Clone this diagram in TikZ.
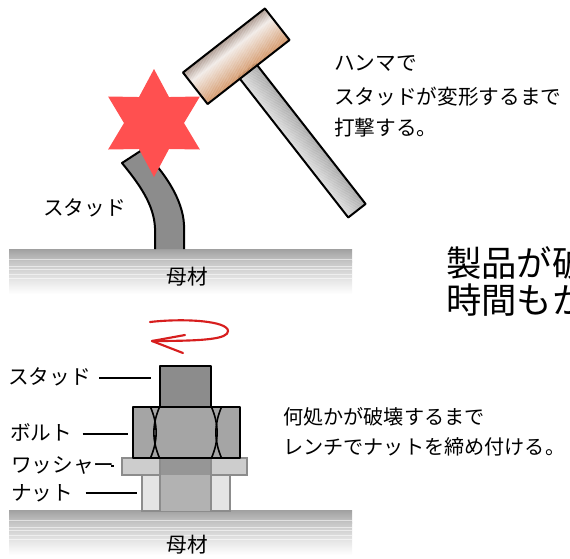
\documentclass[tikz,border=0pt]{standalone}
\usepackage{fontspec}
\setmainfont{Noto Sans CJK JP}
\definecolor{starred}{RGB}{255,80,80}
\definecolor{arrowred}{RGB}{215,30,30}
\definecolor{studgray}{RGB}{140,140,140}
\definecolor{plA}{RGB}{160,160,160}
\definecolor{plB}{RGB}{198,198,198}
\definecolor{hA}{RGB}{170,150,140}
\definecolor{hB}{RGB}{242,236,232}
\definecolor{hC}{RGB}{214,155,110}
\definecolor{haA}{RGB}{172,172,172}
\definecolor{haB}{RGB}{222,222,222}
\definecolor{nutgray}{RGB}{165,165,165}
\definecolor{washer}{RGB}{205,205,205}
\definecolor{nutlight}{RGB}{228,228,228}
\definecolor{colmid}{RGB}{178,178,178}
\definecolor{coldark}{RGB}{150,150,150}
\definecolor{edgegray}{RGB}{140,140,140}
\begin{document}
\begin{tikzpicture}[x=0.75pt,y=-0.75pt,
  outl/.style={draw=black,line width=1.5pt,line join=round},
  lbl/.style={font=\fontsize{15.5}{18}\selectfont,inner sep=0pt,anchor=west},
  lbls/.style={font=\fontsize{15.1}{18}\selectfont,inner sep=0pt,anchor=west},
  big/.style={font=\fontsize{26.5}{30}\selectfont,inner sep=0pt,anchor=west},
  leader/.style={draw=black,line width=1.5pt},
  redarrow/.style={draw=arrowred,line width=1.6pt,line cap=round,line join=round}]
\useasboundingbox (0,0) rectangle (570,558);
\clip (0,0) rectangle (570,558);

% base plates
\foreach \t in {249,510}{
  \shade[top color=plA,bottom color=plB] (9,\t) rectangle (352,\t+13);
  \shade[top color=plB,bottom color=white] (9,\t+12.9) rectangle (352,\t+45);
  \foreach \d in {10,17,20,25,29}{
    \draw[white,opacity=0.55,line width=0.5pt] (9,\t+\d) -- (352,\t+\d);
  }
}

% bent stud (top)
\fill[studgray] (155,249) -- (155,228) .. controls (154,205) and (140,185) .. (122,163)
  -- (142,150) .. controls (165,172) and (183,200) .. (184,225) -- (184,249) -- cycle;
\draw[outl] (155,249) -- (155,228) .. controls (154,205) and (140,185) .. (122,163)
  -- (142,150) .. controls (165,172) and (183,200) .. (184,225) -- (184,249);

% star
\begin{scope}[shift={(154,123)}]
\fill[starred] (90:54) -- (60:30) -- (30:53) -- (0:30) -- (-30:53) -- (-60:30)
  -- (-90:54) -- (-120:30) -- (-150:53) -- (180:30) -- (150:53) -- (120:30) -- cycle;
\end{scope}

% hammer
\begin{scope}[shift={(236.25,56.25)},rotate=38]
  \foreach \i in {0,...,21}{
    \pgfmathtruncatemacro\p{100-\i*100/21}
    \fill[haB!\p!haA] ({-11+\i},18) rectangle ({-11+\i+1.05},196);
  }
  \draw[outl] (-11,18) rectangle (11,196);
  \foreach \i in {0,...,39}{
    \ifnum\i<12
      \pgfmathtruncatemacro\p{100-\i*100/12}
      \fill[hA!\p!hB] (-52,{-20+\i}) rectangle (52,{-20+\i+1.05});
    \else
      \pgfmathtruncatemacro\p{100-(\i-12)*100/27}
      \fill[hB!\p!hC] (-52,{-20+\i}) rectangle (52,{-20+\i+1.05});
    \fi
  }
  \draw[outl] (-52,-20) rectangle (52,20);
\end{scope}

% top texts
\node[lbl] (t1) at (334,63) {ハンマで};
\node[lbl] (t2) at (334,97) {スタッドが変形するまで};
\node[lbl] (t3) at (334,128) {打撃する。};
\node[lbl] (studA) at (43,208) {スタッド};
\node[lbl,anchor=center] (baseA) at (187,277) {母材};

% big text (cut at the right edge, as in the picture)
\node[big] (b1) at (446,263) {製品が破};
\node[big] (b2) at (446,300) {時間もか};

% rotation arrow
\draw[redarrow] (150,322) .. controls (185,318) and (228,321) .. (228,331)
  .. controls (228,339) and (205,341) .. (152,341);
\draw[redarrow] (185,335) -- (152,341) -- (183,353);

% bottom assembly
\filldraw[fill=nutlight,draw=edgegray,line width=1pt] (142,474) rectangle (230,511);
\filldraw[fill=washer,draw=edgegray,line width=1pt] (122,458) rectangle (247,475);
\fill[colmid] (160,475) rectangle (211,511);
\fill[coldark] (160,458) rectangle (211,475);
\draw[edgegray,line width=1pt] (160,458) -- (160,511) (211,458) -- (211,511);
\filldraw[fill=studgray,outl] (160,366) rectangle (211,407);
\filldraw[fill=nutgray,outl] (133,407) rectangle (240,458);
\draw[line width=1.2pt] (150.5,407) .. controls (158,425) and (158,440) .. (150.5,458);
\draw[line width=1.2pt] (159.5,407) .. controls (152,425) and (152,440) .. (159.5,458);
\draw[line width=1.2pt] (211.5,407) .. controls (219,425) and (219,440) .. (211.5,458);
\draw[line width=1.2pt] (221.5,407) .. controls (214,425) and (214,440) .. (221.5,458);

% labels with leaders
\node[lbl] (lstud) at (8,377) {スタッド};
\coordinate (lstudE) at (151,378);
\draw[leader] (lstud.east) ++(8,1) -- (lstudE);
\node[lbl] (lbolt) at (10,432) {ボルト};
\coordinate (lboltE) at (128,434);
\draw[leader] (lbolt.east) ++(10,2) -- (lboltE);
\node[lbl] (lwash) at (11,465) {ワッシャー};
\coordinate (lwashE) at (114,465.5);
\draw[leader] (lwash.east) ++(-4,0.5) -- (lwashE);
\node[lbl] (lnut) at (11,493) {ナット};
\coordinate (lnutE) at (137,493);
\draw[leader] (lnut.east) ++(12,0) -- (lnutE);
\node[lbl,anchor=center] (baseB) at (187,545) {母材};

% bottom right texts
\node[lbls] (u1) at (283,417) {何処かが破壊するまで};
\node[lbls] (u2) at (283,447) {レンチでナットを締め付ける。};
\end{tikzpicture}
\end{document}
